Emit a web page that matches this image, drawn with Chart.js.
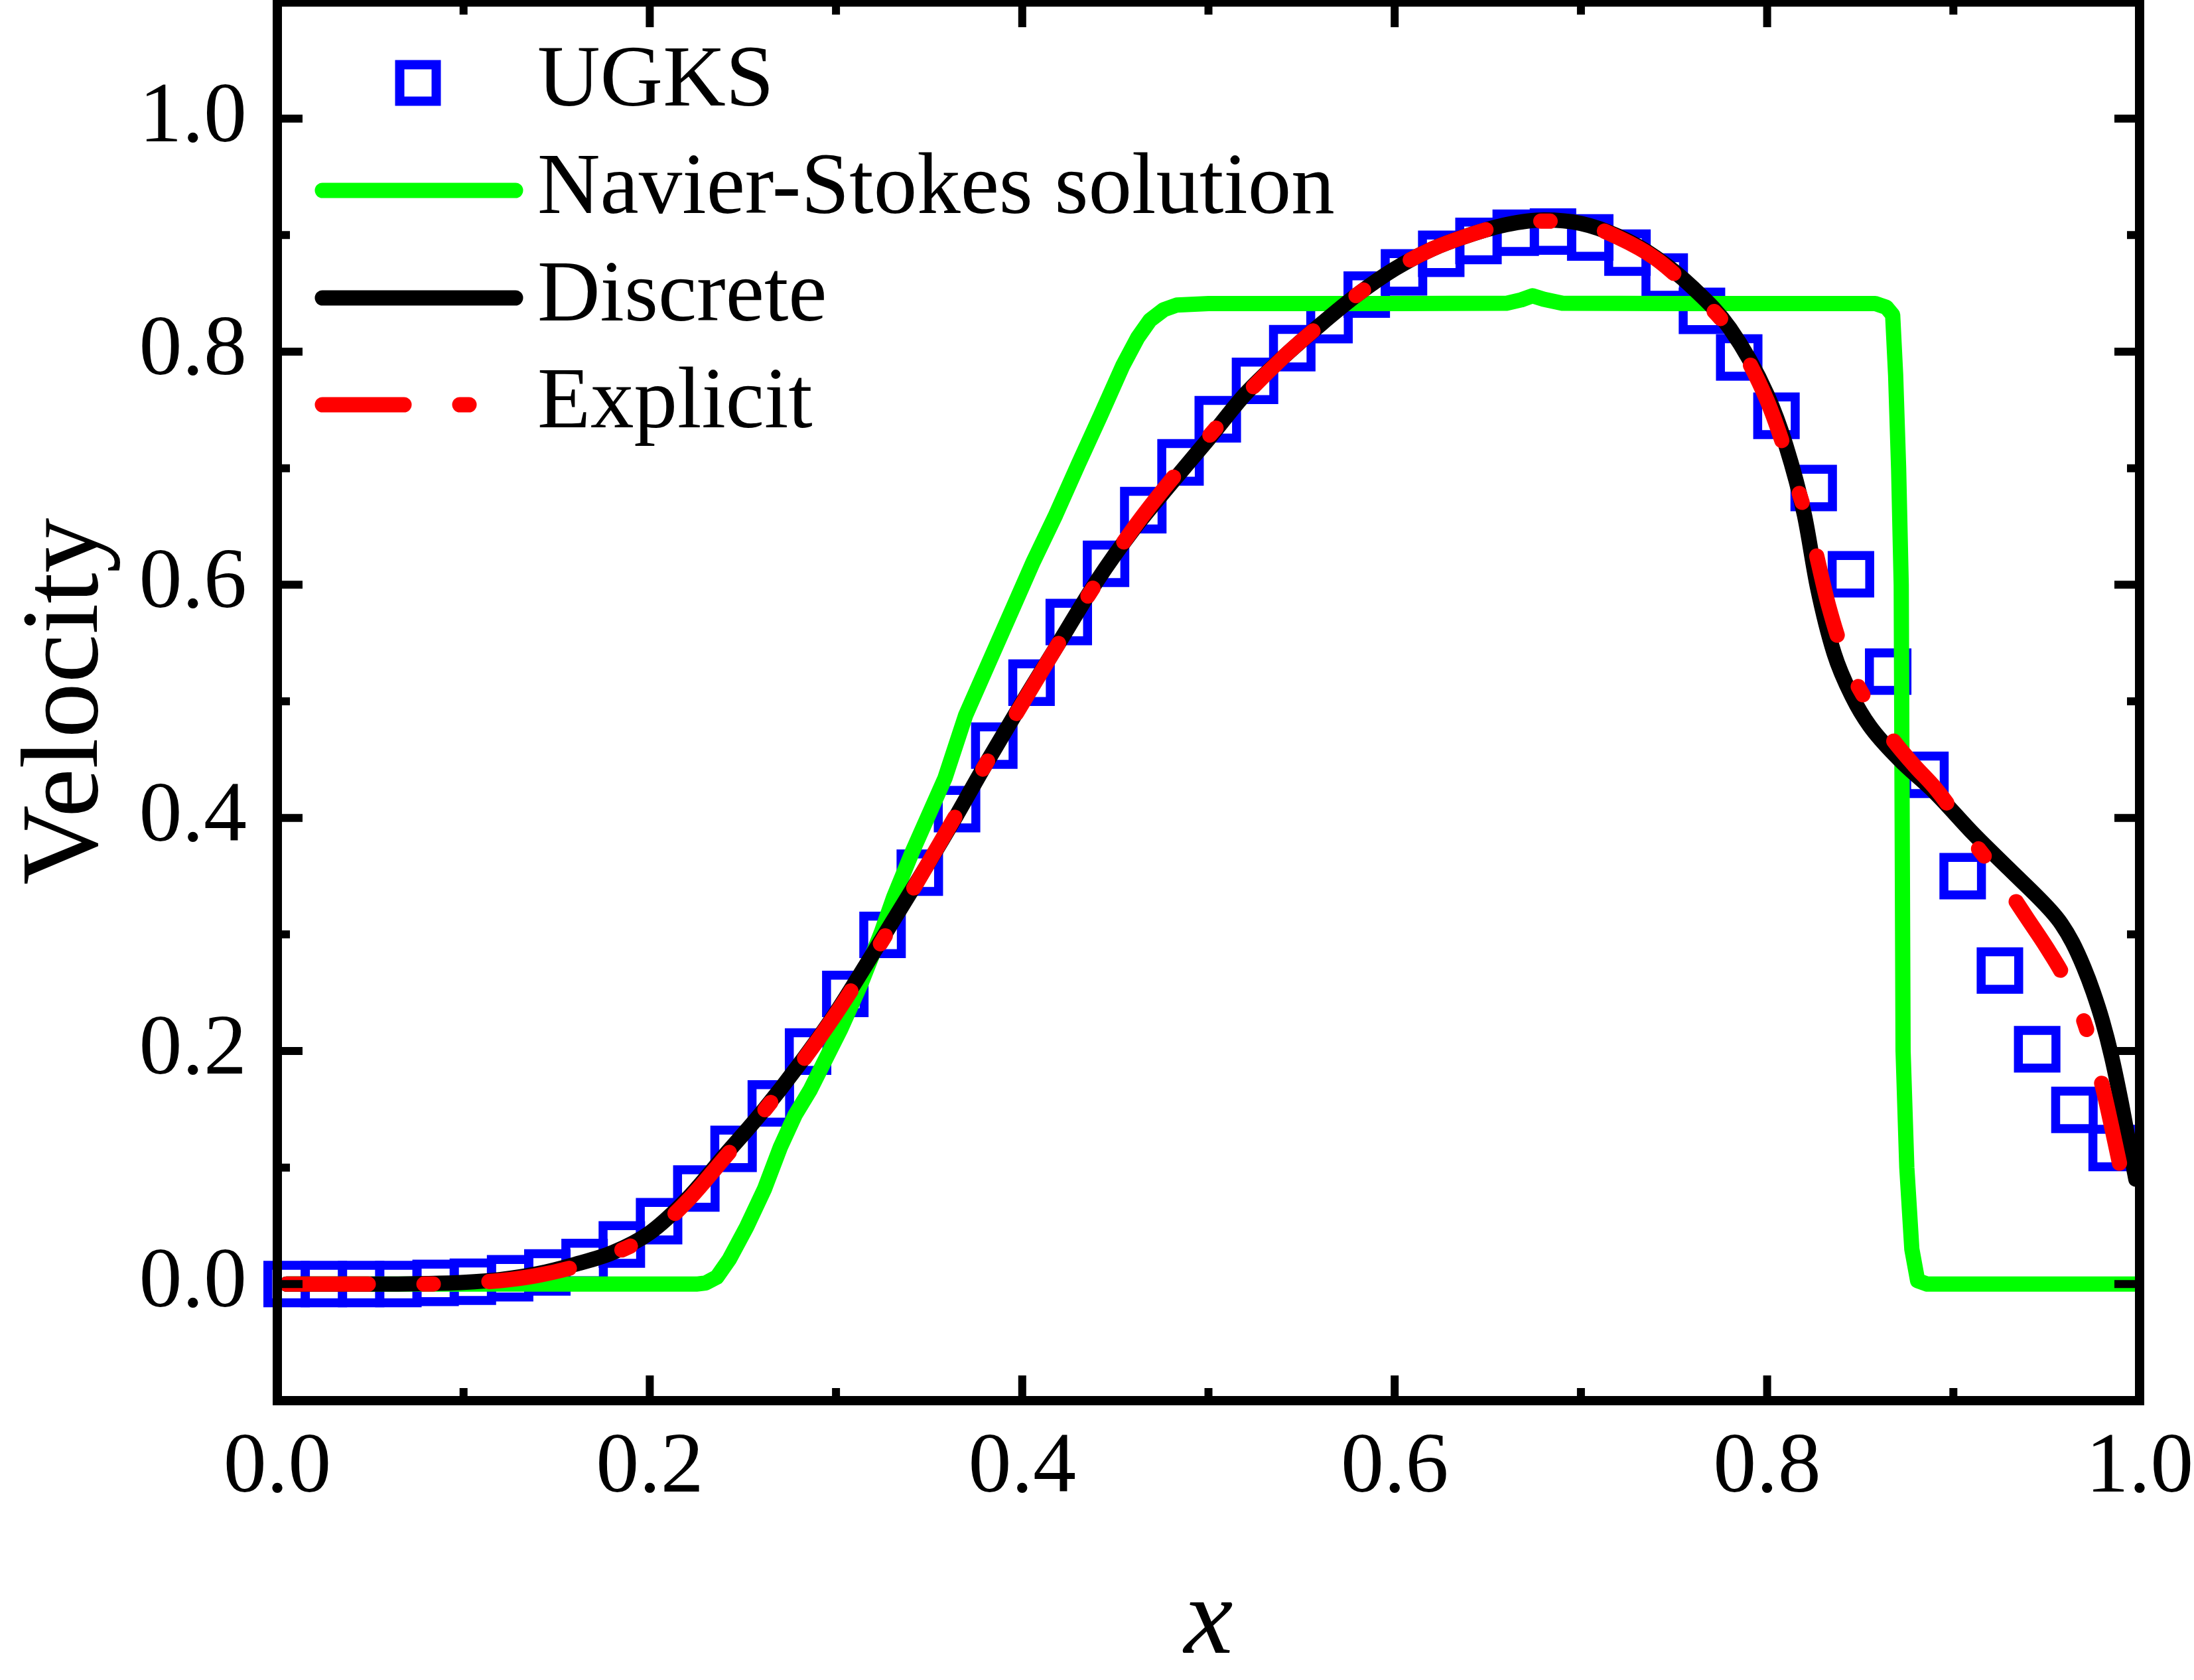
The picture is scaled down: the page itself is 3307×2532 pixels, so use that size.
<!DOCTYPE html>
<html>
<head>
<meta charset="utf-8">
<title>Velocity profile</title>
<script src="https://cdn.jsdelivr.net/npm/chart.js@4.4.1/dist/chart.umd.min.js"></script>
<style>
  html, body { margin: 0; padding: 0; background: #fff; }
  canvas { display: block; }
</style>
</head>
<body>
<canvas id="velocityChart" width="3307" height="2532" style="width:3307px;height:2532px"></canvas>
<script>
// values
const seriesLabels = ['UGKS', 'Navier-Stokes solution', 'Discrete', 'Explicit'];

const ugksX = [0.005, 0.025, 0.045, 0.065, 0.085, 0.105, 0.125, 0.145, 0.165, 0.185,
  0.205, 0.225, 0.245, 0.265, 0.285, 0.305, 0.325, 0.345, 0.365, 0.385,
  0.405, 0.425, 0.445, 0.465, 0.485, 0.505, 0.525, 0.545, 0.565, 0.585,
  0.605, 0.625, 0.645, 0.665, 0.685, 0.705, 0.725, 0.745, 0.765, 0.785,
  0.805, 0.825, 0.845, 0.865, 0.885, 0.905, 0.925, 0.945, 0.965, 0.985];
const ugksV = [0, 0, 0, 0, 0.001, 0.002, 0.005, 0.010, 0.019, 0.034,
  0.054, 0.082, 0.116, 0.155, 0.1995, 0.249, 0.2996, 0.353, 0.4075, 0.462,
  0.516, 0.568, 0.618, 0.664, 0.705, 0.742, 0.775, 0.803, 0.827, 0.849,
  0.868, 0.884, 0.895, 0.902, 0.903, 0.898, 0.885, 0.8645, 0.835, 0.795,
  0.745, 0.683, 0.609, 0.5255, 0.437, 0.350, 0.269, 0.2015, 0.1495, 0.1167];

const nsX = [0.005, 0.10, 0.20, 0.225, 0.230, 0.236, 0.2426, 0.252, 0.2617, 0.27,
  0.278, 0.2863, 0.2944, 0.3026, 0.3135, 0.3244, 0.331, 0.341, 0.3585, 0.3696,
  0.382, 0.395, 0.406, 0.418, 0.43, 0.442, 0.454, 0.462, 0.4686, 0.476,
  0.483, 0.50, 0.60, 0.66, 0.668, 0.674, 0.68, 0.69, 0.75, 0.858,
  0.864, 0.8674, 0.869, 0.8706, 0.872, 0.8725, 0.873, 0.875, 0.8777, 0.8808,
  0.886, 0.95, 0.998];
const nsV = [0, 0, 0, 0, 0.001, 0.006, 0.021, 0.049, 0.082, 0.117,
  0.145, 0.167, 0.193, 0.219, 0.258, 0.302, 0.332, 0.371, 0.434, 0.488,
  0.533, 0.58, 0.62, 0.66, 0.703, 0.745, 0.788, 0.812, 0.827, 0.836,
  0.840, 0.8413, 0.8413, 0.8415, 0.8445, 0.848, 0.845, 0.8415, 0.8413, 0.8413,
  0.838, 0.8315, 0.78, 0.70, 0.60, 0.40, 0.20, 0.10, 0.03, 0.003,
  0, 0, 0];

const discreteX = [0.005, 0.05, 0.08, 0.10, 0.12, 0.14, 0.16, 0.18, 0.20, 0.22,
  0.24, 0.26, 0.28, 0.30, 0.32, 0.34, 0.36, 0.38, 0.40, 0.42,
  0.44, 0.46, 0.48, 0.50, 0.52, 0.54, 0.56, 0.58, 0.60, 0.62,
  0.64, 0.66, 0.68, 0.70, 0.72, 0.74, 0.76, 0.78, 0.80, 0.81,
  0.82, 0.827, 0.836, 0.846, 0.855, 0.871, 0.89, 0.911, 0.93, 0.9525,
  0.958, 0.964, 0.970, 0.975, 0.980, 0.985, 0.990, 0.994, 0.998];
const discreteV = [0, 0, 0.0005, 0.0015, 0.004, 0.009, 0.017, 0.027, 0.044, 0.073,
  0.11, 0.147, 0.188, 0.233, 0.284, 0.336, 0.389, 0.445, 0.499, 0.551,
  0.603, 0.648, 0.687, 0.725, 0.764, 0.795, 0.823, 0.849, 0.871, 0.888,
  0.900, 0.909, 0.913, 0.910, 0.899, 0.881, 0.855, 0.82, 0.763, 0.72,
  0.66, 0.598, 0.541, 0.503, 0.479, 0.450, 0.422, 0.386, 0.356, 0.320,
  0.309, 0.293, 0.272, 0.251, 0.226, 0.195, 0.157, 0.123, 0.09];

const explicitX = [0.005, 0.05, 0.08, 0.10, 0.12, 0.14, 0.16, 0.18, 0.20, 0.22,
  0.24, 0.26, 0.28, 0.30, 0.32, 0.34, 0.36, 0.38, 0.40, 0.42,
  0.44, 0.46, 0.48, 0.50, 0.52, 0.54, 0.56, 0.58, 0.60, 0.62,
  0.64, 0.66, 0.68, 0.70, 0.72, 0.74, 0.76, 0.78, 0.80, 0.813,
  0.8235, 0.833, 0.8426, 0.855, 0.867, 0.879, 0.89, 0.90, 0.91, 0.92,
  0.93, 0.94, 0.95, 0.96, 0.97, 0.98, 0.985, 0.99, 0.993];
const explicitV = [0, 0, 0, 0.001, 0.003, 0.0075, 0.015, 0.026, 0.042, 0.071,
  0.108, 0.146, 0.187, 0.232, 0.282, 0.335, 0.39, 0.445, 0.498, 0.551,
  0.602, 0.649, 0.69, 0.727, 0.763, 0.795, 0.823, 0.849, 0.871, 0.888,
  0.900, 0.909, 0.912, 0.910, 0.898, 0.880, 0.852, 0.818, 0.758, 0.699,
  0.645, 0.582, 0.534, 0.496, 0.468, 0.445, 0.426, 0.405, 0.381, 0.36,
  0.337, 0.313, 0.289, 0.262, 0.226, 0.17, 0.135, 0.098, 0.078];

const xTicks = [0, 0.2, 0.4, 0.6, 0.8, 1.0];
const xMinorTicks = [0.1, 0.3, 0.5, 0.7, 0.9];
const yTicks = [0, 0.2, 0.4, 0.6, 0.8, 1.0];
const yMinorTicks = [0.1, 0.3, 0.5, 0.7, 0.9];

const toPoints = (xs, vs) => xs.map((x, i) => ({ x: x, y: vs[i] }));

const serif = '"Liberation Serif", "Times New Roman", serif';
Chart.defaults.font.family = serif;
Chart.defaults.color = '#000';

// scales report no label overhang, so the plot box stays where it is asked to be
const noPadding = () => ({ left: 0, top: 0, right: 0, bottom: 0 });

// white page, frame on all four sides and inward ticks
const framePlugin = {
  id: 'frame',
  beforeDraw(chart) {
    const ctx = chart.ctx;
    ctx.save();
    ctx.fillStyle = '#fff';
    ctx.fillRect(0, 0, chart.width, chart.height);
    ctx.restore();
  },
  afterDatasetsDraw(chart) {
    const { ctx, chartArea: a, scales } = chart;
    ctx.save();
    ctx.strokeStyle = '#000';
    ctx.lineWidth = 14;
    ctx.lineCap = 'butt';
    ctx.strokeRect(a.left, a.top, a.right - a.left, a.bottom - a.top);

    ctx.lineWidth = 12;
    const xTick = (v, len) => {
      const px = scales.x.getPixelForValue(v);
      ctx.beginPath();
      ctx.moveTo(px, a.bottom); ctx.lineTo(px, a.bottom - len);
      ctx.moveTo(px, a.top); ctx.lineTo(px, a.top + len);
      ctx.stroke();
    };
    const yTick = (v, len) => {
      const py = scales.y.getPixelForValue(v);
      ctx.beginPath();
      ctx.moveTo(a.left, py); ctx.lineTo(a.left + len, py);
      ctx.moveTo(a.right, py); ctx.lineTo(a.right - len, py);
      ctx.stroke();
    };
    xTicks.forEach(v => xTick(v, 38));
    xMinorTicks.forEach(v => xTick(v, 19));
    yTicks.forEach(v => yTick(v, 38));
    yMinorTicks.forEach(v => yTick(v, 19));
    ctx.restore();
  }
};

// legend in the upper left corner, symbols taken from the datasets
const legendPlugin = {
  id: 'insideLegend',
  afterDraw(chart) {
    const ctx = chart.ctx;
    const rows = [125, 287, 449, 610];
    ctx.save();
    chart.data.datasets.forEach((ds, i) => {
      const y = rows[i];
      if (ds.showLine === false) {
        ctx.strokeStyle = ds.pointBorderColor;
        ctx.lineWidth = 14;
        ctx.setLineDash([]);
        ctx.strokeRect(630 - 27.5, y - 27.5, 55, 55);
      } else {
        ctx.strokeStyle = ds.borderColor;
        ctx.lineWidth = ds.borderWidth;
        ctx.lineCap = 'round';
        ctx.setLineDash(ds.borderDash || []);
        ctx.beginPath();
        ctx.moveTo(486, y);
        ctx.lineTo(777, y);
        ctx.stroke();
      }
      ctx.setLineDash([]);
      ctx.fillStyle = '#000';
      ctx.font = '131px ' + serif;
      ctx.textAlign = 'left';
      ctx.textBaseline = 'middle';
      ctx.fillText(ds.label, 810, y);
    });
    ctx.restore();
  }
};

const ctx = document.getElementById('velocityChart').getContext('2d');

new Chart(ctx, {
  type: 'scatter',
  data: {
    datasets: [
      {
        label: seriesLabels[0],
        data: toPoints(ugksX, ugksV),
        showLine: false,
        pointStyle: 'rect',
        pointRadius: 40,
        pointHoverRadius: 40,
        pointBorderWidth: 13.5,
        pointBorderColor: '#0000ff',
        pointBackgroundColor: 'rgba(0,0,0,0)',
        clip: false,
        order: 3
      },
      {
        label: seriesLabels[1],
        data: toPoints(nsX, nsV),
        showLine: true,
        borderColor: '#00ff00',
        borderWidth: 23,
        borderCapStyle: 'round',
        borderJoinStyle: 'round',
        pointRadius: 0,
        tension: 0,
        order: 2
      },
      {
        label: seriesLabels[2],
        data: toPoints(discreteX, discreteV),
        showLine: true,
        borderColor: '#000000',
        borderWidth: 23,
        borderCapStyle: 'round',
        borderJoinStyle: 'round',
        pointRadius: 0,
        cubicInterpolationMode: 'monotone',
        order: 1
      },
      {
        label: seriesLabels[3],
        data: toPoints(explicitX, explicitV),
        showLine: true,
        borderColor: '#ff0000',
        borderWidth: 23,
        borderDash: [123, 84, 14, 84],
        borderCapStyle: 'round',
        borderJoinStyle: 'round',
        pointRadius: 0,
        cubicInterpolationMode: 'monotone',
        order: 0
      }
    ]
  },
  options: {
    responsive: false,
    devicePixelRatio: 1,
    animation: false,
    events: [],
    layout: {
      autoPadding: false,
      padding: { left: 0, right: 82, top: 3, bottom: 0 }
    },
    plugins: {
      legend: { display: false },
      tooltip: { enabled: false }
    },
    scales: {
      x: {
        type: 'linear',
        position: 'bottom',
        min: 0,
        max: 1,
        grid: { display: false, drawTicks: false, tickLength: 0 },
        border: { display: false },
        afterBuildTicks: s => { s.ticks = xTicks.map(v => ({ value: v })); },
        afterFit: s => {
          s.height = 421;
          s.paddingLeft = 0; s.paddingRight = 0; s.paddingTop = 0; s.paddingBottom = 0;
          s.getPadding = noPadding;
        },
        ticks: {
          padding: 25,
          autoSkip: false,
          maxRotation: 0,
          font: { size: 130, lineHeight: 1.2 },
          color: '#000',
          callback: v => Number(v).toFixed(1)
        },
        title: {
          display: true,
          text: 'x',
          color: '#000',
          font: { size: 166, style: 'italic', lineHeight: 1 },
          padding: { top: 0, bottom: 2 }
        }
      },
      y: {
        type: 'linear',
        position: 'left',
        min: -0.1,
        max: 1.1,
        grid: { display: false, drawTicks: false, tickLength: 0 },
        border: { display: false },
        afterBuildTicks: s => { s.ticks = yTicks.map(v => ({ value: v })); },
        afterFit: s => {
          s.width = 418;
          s.paddingLeft = 0; s.paddingRight = 0; s.paddingTop = 0; s.paddingBottom = 0;
          s.getPadding = noPadding;
        },
        ticks: {
          padding: 46,
          autoSkip: false,
          font: { size: 130, lineHeight: 1.2 },
          color: '#000',
          callback: v => Number(v).toFixed(1)
        },
        title: {
          display: true,
          text: 'Velocity',
          color: '#000',
          font: { size: 166, lineHeight: 1 },
          padding: { top: 19, bottom: 0 }
        }
      }
    }
  },
  plugins: [framePlugin, legendPlugin]
});
</script>
</body>
</html>
